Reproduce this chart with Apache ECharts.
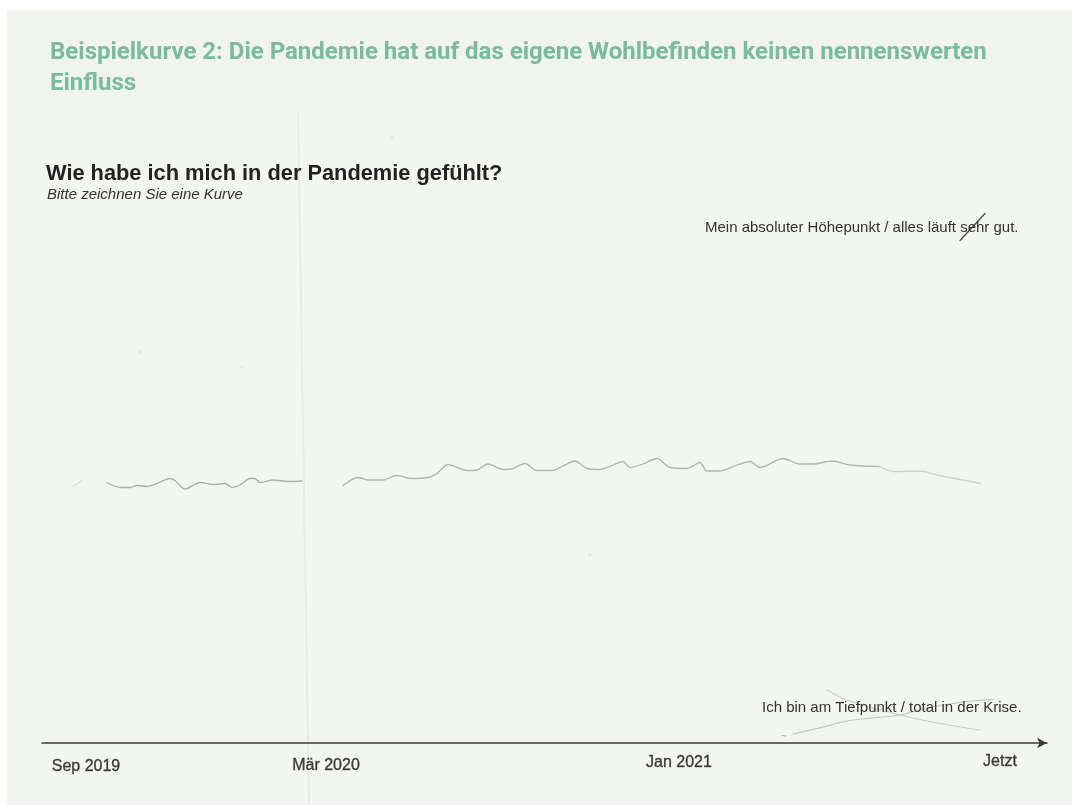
<!DOCTYPE html>
<html>
<head>
<meta charset="utf-8">
<style>html,body{margin:0;padding:0;background:#fff}#c{width:1072px;height:805px}</style>
<script src="https://cdn.jsdelivr.net/npm/echarts@6/dist/echarts.min.js"></script>
</head>
<body>
<div id="c"></div>
<script>
const heading = "Beispielkurve 2: Die Pandemie hat auf das eigene Wohlbefinden keinen nennenswerten\nEinfluss";
const formTitle = "Wie habe ich mich in der Pandemie gefühlt?";
const formHint = "Bitte zeichnen Sie eine Kurve";
const highLabel = "Mein absoluter Höhepunkt / alles läuft sehr gut.";
const lowLabel = "Ich bin am Tiefpunkt / total in der Krise.";

const tickValues = [4.4, 28.4, 63.7, 95.8];
const tickLabels = ["Sep 2019", "Mär 2020", "Jan 2021", "Jetzt"];

const curveFaintStart = [[3.1,51.3],[4.1,52.6]];
const curveBefore = [[6.5,52.1],[7.8,51.1],[8.8,51.1],[9.5,51.5],[10.5,51.3],[11.5,51.9],[12.8,52.9],[13.3,52.5],[14.3,50.8],[15.8,52.1],[17.1,51.7],[18.3,51.9],[19.0,51.1],[19.8,51.6],[20.8,52.9],[21.3,52.9],[21.8,52.1],[23.1,52.6],[24.6,52.3],[26.0,52.4]];
const curveAfter = [[30.1,51.5],[31.6,53.1],[32.6,52.6],[34.1,52.6],[35.5,53.5],[36.8,52.9],[38.6,53.1],[39.5,53.9],[40.6,55.7],[42.5,54.5],[43.5,54.6],[44.6,55.8],[46.1,54.7],[47.1,54.9],[48.3,55.9],[49.5,54.5],[51.0,54.5],[52.1,55.4],[53.3,56.4],[54.5,54.9],[55.8,54.7],[57.1,55.6],[58.1,56.3],[58.8,55.1],[60.1,55.8],[61.5,56.9],[62.8,55.1],[64.5,54.9],[65.8,56.1],[66.5,54.4],[67.8,54.4],[69.5,55.6],[70.8,56.3],[71.8,55.1],[74.1,56.9],[75.8,55.8],[77.1,55.8],[79.0,56.4],[80.8,55.6],[83.8,55.3]];
const curveFaintEnd = [[83.8,55.3],[85.1,54.3],[87.8,54.4],[89.5,53.6],[92.1,52.6],[93.8,51.9]];

const crossStrokeA = [[75.1,1.8],[77.5,2.9],[80.8,4.5],[85.8,5.6],[88.5,7.0],[92.5,8.3],[95.1,8.7]];
const crossStrokeB = [[78.5,10.6],[80.5,8.6],[85.8,5.6],[89.8,3.9],[93.8,2.6]];
const crossStrokeTick = [[74.0,1.5],[74.4,1.4]];
const strikeStroke = [[91.8,100.5],[94.3,105.9]];
const paperSpecks = [[9.8,78.2],[20.0,75.2],[54.8,37.6],[35.0,121]];

function stroke(name, data, color, width, smooth) {
  return {
    name, type: 'line', data, smooth, symbol: 'none', silent: true,
    lineStyle: { color, width, cap: 'round', join: 'round' }, z: 3
  };
}

function tickStyle(topPad) {
  return { fontFamily: 'Liberation Sans', fontSize: 16, color: '#3a3a3a', textBorderColor: '#5a5a5a', textBorderWidth: 0.4, padding: [topPad, 0, 0, 0] };
}

const chart = echarts.init(document.getElementById('c'), null, { renderer: 'canvas' });
chart.setOption({
  animation: false,
  backgroundColor: '#ffffff',
  title: [
    { text: heading, left: 45, top: 32, textStyle: { fontFamily: 'Roboto', fontWeight: 700, fontSize: 24, lineHeight: 31, color: '#78bba2' } },
    { text: formTitle, left: 41, top: 158, textStyle: { fontFamily: 'Liberation Sans', fontWeight: 700, fontSize: 21.8, color: '#222222' } },
    { text: formHint, left: 42, top: 182, textStyle: { fontFamily: 'Liberation Sans', fontStyle: 'italic', fontWeight: 400, fontSize: 15, color: '#333333' } }
  ],
  grid: { left: 42, right: 25, top: 143, bottom: 62 },
  xAxis: {
    type: 'value', min: 0, max: 100.5, splitLine: { show: false },
    axisLine: { show: true, onZero: false, symbol: ['none', 'arrow'], symbolSize: [8, 10], lineStyle: { color: '#3a3a3a', width: 1.5 } },
    axisTick: { show: false },
    axisLabel: {
      show: true, customValues: tickValues, margin: 11, hideOverlap: false, showMinLabel: true, showMaxLabel: true,
      formatter: v => { const i = tickValues.indexOf(v); return '{l' + i + '|' + tickLabels[i] + '}'; },
      rich: { l0: tickStyle(5), l1: tickStyle(4), l2: tickStyle(1), l3: tickStyle(0) }
    }
  },
  yAxis: { type: 'value', min: 0, max: 120, show: false },
  series: [
    stroke('Kurve Anfang', curveFaintStart, '#d8dad6', 1.2, 0.3),
    stroke('Kurve bis Mär 2020', curveBefore, '#acafab', 1.3, 0.3),
    stroke('Kurve ab Mär 2020', curveAfter, '#b0b3af', 1.3, 0.3),
    stroke('Kurve Ende', curveFaintEnd, '#cfd1cd', 1.3, 0.3),
    stroke('Streichung A', crossStrokeA, '#c0c3bf', 1.1, 0.3),
    stroke('Streichung B', crossStrokeB, '#c8cbc7', 1.1, 0.3),
    stroke('Streichung Ansatz', crossStrokeTick, '#a8aba7', 1.1, false),
    stroke('Streichung sehr', strikeStroke, '#444444', 1.2, false),
    { name: 'Flecken', type: 'scatter', data: paperSpecks, symbolSize: 3, silent: true, clip: false, itemStyle: { color: '#e2e4e0' }, z: 2 }
  ],
  graphic: [
    { type: 'rect', z: -3, silent: true, shape: { x: 7, y: 10, width: 1065, height: 795 }, style: { fill: '#f1f3ef' } },
    { type: 'rect', z: -2, silent: true, shape: { x: 7, y: 108, width: 1065, height: 697 }, style: { fill: '#f3f5f1' } },
    { type: 'line', z: -1, silent: true, shape: { x1: 298, y1: 112, x2: 309, y2: 805 }, style: { stroke: '#e8eae6', lineWidth: 2 } },
    { type: 'text', z: 5, silent: true, x: 705, y: 220, style: { text: highLabel, fontFamily: 'Liberation Sans', fontSize: 15, fill: '#333333' } },
    { type: 'text', z: 5, silent: true, x: 762, y: 700, style: { text: lowLabel, fontFamily: 'Liberation Sans', fontSize: 15, fill: '#333333' } }
  ]
});
</script>
</body>
</html>
